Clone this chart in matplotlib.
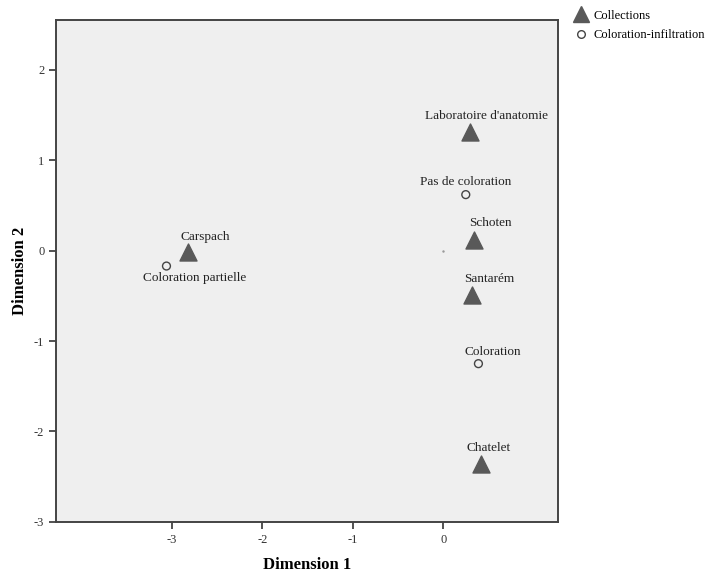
import matplotlib.pyplot as plt

# Collections (triangles)
coll_names = ["Laboratoire d'anatomie", "Schoten", "Santarém", "Chatelet", "Carspach"]
coll_x = [0.30, 0.34, 0.32, 0.42, -2.82]
coll_y = [1.31, 0.12, -0.49, -2.36, -0.02]

# Coloration-infiltration (open circles)
col_names = ["Pas de coloration", "Coloration", "Coloration partielle"]
col_x = [0.25, 0.39, -3.06]
col_y = [0.62, -1.25, -0.17]

plt.rcParams['font.family'] = ['Liberation Serif', 'DejaVu Serif']
plt.rcParams['axes.unicode_minus'] = False

fig = plt.figure(figsize=(7.2, 5.76), dpi=100)
ax = fig.add_axes([0.078, 0.094, 0.697, 0.871])
ax.set_facecolor('#efefef')

ax.scatter(coll_x, coll_y, marker='^', s=150, color='#595959', zorder=3)
ax.scatter(col_x, col_y, marker='o', s=32, facecolor='none',
           edgecolor='#444444', linewidth=1.0, zorder=3)
ax.plot([0], [0], marker='.', markersize=1.5, color='#999999')

# label offsets in points (dx, dy)
coll_off = [(12, 7.5), (12, 7.5), (12, 7.5), (5, 7.5), (12, 7)]
col_off = [(0, 4.5), (10, 4), (20, -4.5)]
for name, x, y, off in zip(coll_names, coll_x, coll_y, coll_off):
    ax.annotate(name, (x, y), xytext=off, textcoords='offset points',
                ha='center', va='bottom', fontsize=9.5, color='#222222')
for name, x, y, off in zip(col_names, col_x, col_y, col_off):
    ax.annotate(name, (x, y), xytext=off, textcoords='offset points',
                ha='center', va='bottom' if off[1] > 0 else 'top',
                fontsize=9.5, color='#222222')

ax.set_xlim(-4.28, 1.27)
ax.set_ylim(-3.0, 2.55)
ax.set_xticks([-3, -2, -1, 0])
ax.set_yticks([-3, -2, -1, 0, 1, 2])
ax.tick_params(direction='out', length=5, width=1.2, color='#333333',
               labelsize=9, labelcolor='#333333')
for sp in ax.spines.values():
    sp.set_color('#444444')
    sp.set_linewidth(1.4)

ax.set_xlabel('Dimension 1', fontsize=12, fontweight='bold', labelpad=8)
ax.set_ylabel('Dimension 2', fontsize=12, fontweight='bold', labelpad=4)

h1, = ax.plot([], [], linestyle='none', marker='^', markersize=11, color='#595959')
h2, = ax.plot([], [], linestyle='none', marker='o', markersize=5.5,
              markerfacecolor='none', markeredgecolor='#444444')
fig.legend([h1, h2], ['Collections', 'Coloration-infiltration'],
           loc='upper left', bbox_to_anchor=(0.79, 0.992), frameon=False,
           fontsize=9, handletextpad=0.4, handlelength=1.2,
           labelspacing=0.6, borderaxespad=0)

fig.savefig('out.png', dpi=100)
